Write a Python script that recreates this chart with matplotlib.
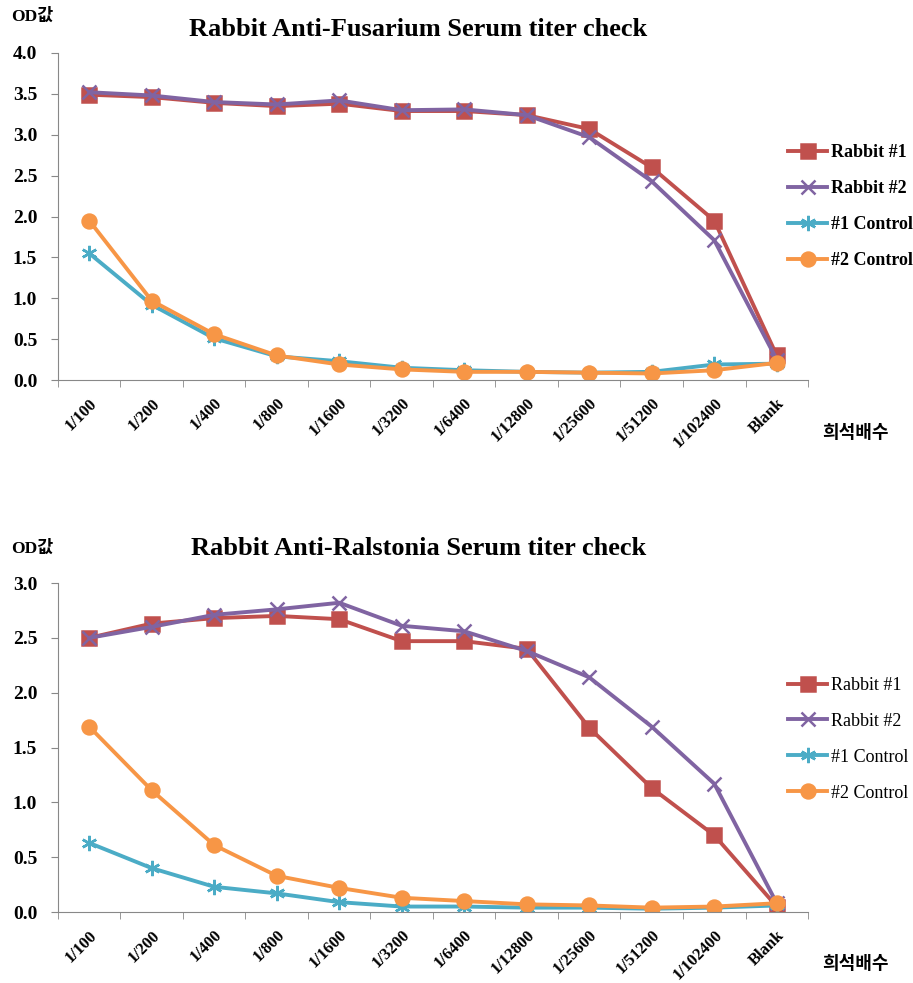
import matplotlib.pyplot as plt
import numpy as np

dilutions = ['1/100', '1/200', '1/400', '1/800', '1/1600', '1/3200', '1/6400',
             '1/12800', '1/25600', '1/51200', '1/102400', 'Blank']
series_names = ['Rabbit #1', 'Rabbit #2', '#1 Control', '#2 Control']

# top chart: Fusarium
fus_rabbit1 = [3.49, 3.46, 3.39, 3.35, 3.38, 3.29, 3.29, 3.24, 3.07, 2.60, 1.95, 0.30]
fus_rabbit2 = [3.52, 3.48, 3.40, 3.37, 3.42, 3.30, 3.31, 3.24, 2.97, 2.43, 1.71, 0.25]
fus_ctrl1 = [1.55, 0.92, 0.51, 0.29, 0.23, 0.15, 0.12, 0.10, 0.09, 0.10, 0.19, 0.20]
fus_ctrl2 = [1.95, 0.97, 0.56, 0.30, 0.19, 0.13, 0.10, 0.10, 0.09, 0.08, 0.12, 0.21]

# bottom chart: Ralstonia
ral_rabbit1 = [2.50, 2.63, 2.68, 2.70, 2.67, 2.47, 2.47, 2.40, 1.68, 1.13, 0.70, 0.05]
ral_rabbit2 = [2.50, 2.60, 2.71, 2.76, 2.82, 2.61, 2.56, 2.38, 2.14, 1.69, 1.17, 0.08]
ral_ctrl1 = [0.63, 0.40, 0.23, 0.17, 0.09, 0.05, 0.05, 0.04, 0.04, 0.03, 0.04, 0.06]
ral_ctrl2 = [1.69, 1.11, 0.61, 0.33, 0.22, 0.13, 0.10, 0.07, 0.06, 0.04, 0.05, 0.08]

colors = ['#C0504D', '#8064A2', '#4BACC6', '#F79646']
markers = ['s', 'x', (6, 2, 0), 'o']
msizes = [10.5, 10, 11, 10]

serif = 'Liberation Serif'
kr = ['Noto Sans CJK KR', 'DejaVu Sans']

fig = plt.figure(figsize=(9.13, 9.83), dpi=100)


def draw(rect, data, ymax, title, title_y, od_y, xlab_y, legend_y, legend_bold):
    ax = fig.add_axes(rect)
    x = np.arange(len(dilutions))
    for vals, name, c, m, ms in zip(data, series_names, colors, markers, msizes):
        ax.plot(x, vals, color=c, lw=2.8, marker=m, ms=ms, mew=1.8,
                mfc=c, mec=c, label=name)
    ax.set_xlim(-0.5, len(dilutions) - 0.5)
    ax.set_ylim(0, ymax)
    yt = np.arange(0, ymax + 0.01, 0.5)
    ax.set_yticks(yt)
    ax.set_yticklabels(['%.1f' % v for v in yt],
                       fontfamily=serif, fontweight='bold', fontsize=14)
    ax.set_xticks(x)
    ax.set_xticklabels(dilutions, rotation=45, ha='right', rotation_mode='anchor',
                       fontfamily=serif, fontweight='bold', fontsize=12)
    ax.set_xticks(np.arange(-0.5, len(dilutions)), minor=True)
    ax.tick_params(axis='x', which='major', length=0, pad=11)
    ax.tick_params(axis='x', which='minor', length=5, color='#888888')
    ax.tick_params(axis='y', length=5, color='#888888', pad=10)
    for s in ['top', 'right']:
        ax.spines[s].set_visible(False)
    for s in ['left', 'bottom']:
        ax.spines[s].set_color('#888888')
    fig.text(0.458, title_y, title, ha='center', va='center', fontfamily=serif,
             fontweight='bold', fontsize=19)
    fig.text(0.012, od_y, 'OD값', ha='left', va='center',
             fontfamily=[serif, 'Noto Sans CJK KR'], fontweight='bold', fontsize=12.5)
    fig.text(0.900, xlab_y, '희석배수', ha='left', va='center',
             fontfamily=kr, fontweight='bold', fontsize=13)
    fig.legend(*ax.get_legend_handles_labels(), loc='upper left',
               bbox_to_anchor=(0.845, legend_y), frameon=False,
               handlelength=2.2, handletextpad=0.2, labelspacing=1.05,
               prop={'family': serif, 'size': 13,
                     'weight': 'bold' if legend_bold else 'normal'})
    return ax


draw([0.0635, 0.6134, 0.8215, 0.3327],
     [fus_rabbit1, fus_rabbit2, fus_ctrl1, fus_ctrl2], 4.0,
     'Rabbit Anti-Fusarium Serum titer check', 0.970, 0.983, 0.560, 0.870, True)
draw([0.0635, 0.0722, 0.8215, 0.3347],
     [ral_rabbit1, ral_rabbit2, ral_ctrl1, ral_ctrl2], 3.0,
     'Rabbit Anti-Ralstonia Serum titer check', 0.442, 0.442, 0.020, 0.328, False)

fig.savefig('out.png', dpi=100)
